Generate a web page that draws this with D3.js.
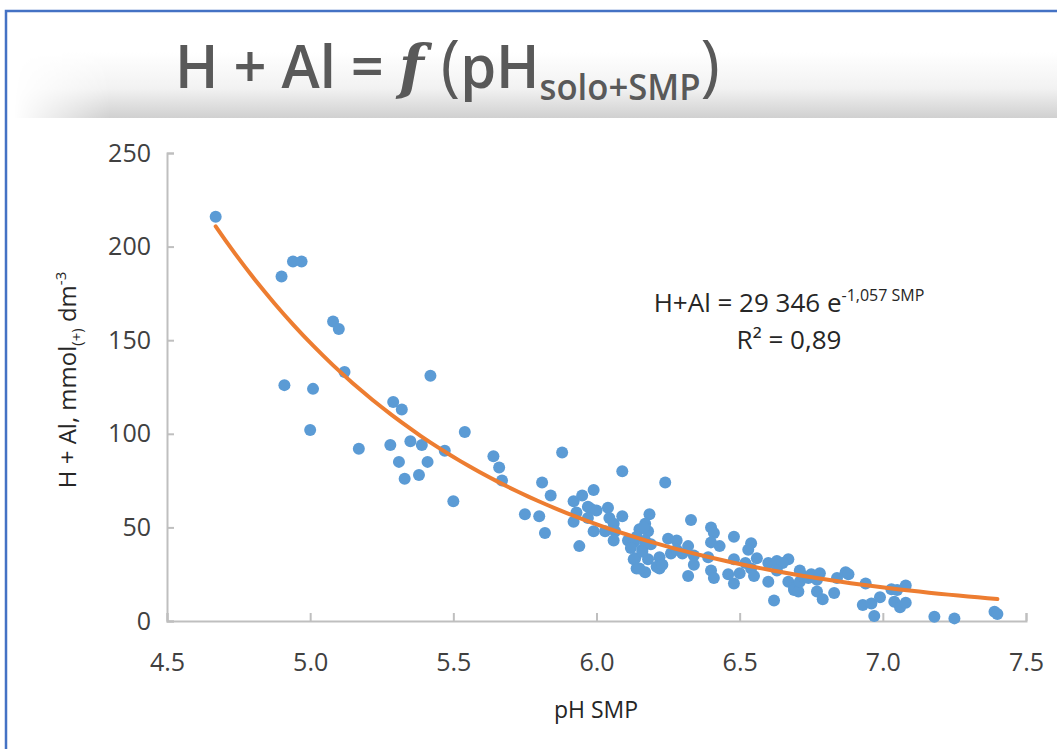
<!DOCTYPE html>
<html>
	<head>
		<title>H + Al = f (pH SMP)</title>
		<script src="https://d3js.org/d3.v7.min.js"></script>
		<style>
			body {
				margin: 0;
				background: #fff;
			}
			text {
				font-family: "Open Sans", sans-serif;
			}
			.axis path, .axis line {
				stroke: #bfbfbf;
				stroke-width: 2;
			}
			.axis text {
				fill: #404040;
				font-size: 25px;
				font-family: "Open Sans", sans-serif;
			}
		</style>
	</head>
	<body>
		<div class="chart"></div>

		<script>
			// pH SMP readings
			var phSmp = [
				4.67, 4.90, 4.94, 4.97, 5.08, 5.10, 5.12, 4.91, 5.01, 5.42,
				5.00, 5.29, 5.32, 5.54, 5.35, 5.39, 5.28, 5.17, 5.47, 5.31,
				5.41, 5.33, 5.38, 5.50, 5.64, 5.66, 5.67, 5.75, 5.80, 5.81,
				5.88, 5.84, 5.82, 5.94, 5.92, 5.95, 5.99, 6.09, 6.24, 5.93,
				5.92, 5.97, 5.98, 6.00, 5.97, 6.04, 6.045, 6.09, 5.99, 6.03,
				6.06, 6.065, 6.06, 6.11, 6.185, 6.13, 6.14, 6.17, 6.22, 6.25,
				6.26, 6.28, 6.17, 6.15, 6.18, 6.14, 6.17, 6.13, 6.19, 6.12,
				6.16, 6.135, 6.18, 6.15, 6.22, 6.21, 6.28, 6.23, 6.33, 6.40,
				6.41, 6.48, 6.40, 6.43, 6.54, 6.53, 6.32, 6.34, 6.30, 6.39,
				6.34, 6.32, 6.40, 6.41, 6.46, 6.48, 6.52, 6.54, 6.56, 6.60,
				6.55, 6.50, 6.48, 6.60, 6.63, 6.67, 6.62, 6.67, 6.69, 6.165,
				6.17, 6.16, 6.65, 6.71, 6.69, 6.705, 6.71, 6.72, 6.74, 6.75,
				6.78, 6.77, 6.77, 6.79, 6.83, 6.84, 6.87, 6.94, 6.93, 6.96,
				6.99, 6.97, 7.03, 7.05, 7.08, 7.04, 7.06, 7.08, 7.18, 7.25,
				7.39, 7.40, 6.63, 6.88
			];

			// H + Al, mmol(+) dm-3
			var hAl = [
				216, 184, 192, 192, 160, 156, 133, 126, 124, 131,
				102, 117, 113, 101, 96, 94, 94, 92, 91, 85,
				85, 76, 78, 64, 88, 82, 75, 57, 56, 74,
				90, 67, 47, 40, 64, 67, 70, 80, 74, 58,
				53, 61, 60, 59, 55, 60.5, 55, 56, 48, 48,
				52, 48, 43, 43, 57, 33, 28, 26, 28, 44,
				36, 43, 52, 49, 48, 45, 43, 42, 41, 39,
				38, 33.5, 33, 28, 34, 29, 38, 30, 54, 50,
				47, 45, 42, 40, 41.5, 38, 40, 35, 36, 34,
				30, 24, 27, 23, 25, 33, 31, 28, 33.5, 31,
				24, 25.5, 20, 21, 32, 33, 11, 21, 17.5, 50,
				41.5, 37, 31, 27, 16.6, 15.7, 21, 24, 23, 25,
				25.5, 22, 15.7, 11.6, 15, 23, 26, 20, 8.5, 9.4,
				12.7, 2.7, 17, 16.6, 19, 10.3, 7.3, 9.8, 2.3, 1.4,
				5, 3.7, 27, 25
			];

			var xTicks = [4.5, 5.0, 5.5, 6.0, 6.5, 7.0, 7.5];
			var yTicks = [0, 50, 100, 150, 200, 250];

			// trendline from the chart label: H+Al = 29346 e^(-1.057 SMP)
			var fitA = 29346;
			var fitB = -1.057;

			var width = 1057,
				height = 749;

			var svg = d3.select(".chart")
				.append("svg")
				.attr("width", width)
				.attr("height", height);

			var defs = svg.append("defs");

			var bandGrad = defs.append("linearGradient")
				.attr("id", "bandGrad")
				.attr("x1", 0).attr("y1", 0)
				.attr("x2", 0).attr("y2", 1);
			bandGrad.append("stop").attr("offset", "0%").attr("stop-color", "#ffffff");
			bandGrad.append("stop").attr("offset", "55%").attr("stop-color", "#f2f2f2");
			bandGrad.append("stop").attr("offset", "100%").attr("stop-color", "#d0d0d0");

			var fadeGrad = defs.append("linearGradient")
				.attr("id", "fadeGrad")
				.attr("gradientUnits", "userSpaceOnUse")
				.attr("x1", 14).attr("y1", 0)
				.attr("x2", 110).attr("y2", 0);
			fadeGrad.append("stop").attr("offset", "0%").attr("stop-color", "#000");
			fadeGrad.append("stop").attr("offset", "100%").attr("stop-color", "#fff");

			defs.append("mask")
				.attr("id", "fadeMask")
				.attr("maskUnits", "userSpaceOnUse")
				.attr("x", 0).attr("y", 0).attr("width", width).attr("height", height)
				.append("rect")
				.attr("x", 0).attr("y", 0)
				.attr("width", width).attr("height", height)
				.style("fill", "url(#fadeGrad)");

			// title band
			svg.append("rect")
				.attr("x", 14)
				.attr("y", 52)
				.attr("width", width)
				.attr("height", 66)
				.attr("mask", "url(#fadeMask)")
				.style("fill", "url(#bandGrad)");

			// slide frame
			svg.append("rect")
				.attr("x", 6)
				.attr("y", 11)
				.attr("width", width + 20)
				.attr("height", height + 20)
				.style("fill", "none")
				.style("stroke", "#4472c4")
				.style("stroke-width", 2.5);

			// title
			var title = svg.append("text")
				.attr("x", 175)
				.attr("y", 88)
				.style("fill", "#595959")
				.style("font-weight", 600)
				.style("font-size", "60px");
			title.append("tspan").text("H + Al = ");
			title.append("tspan").style("font-style", "italic").style("font-weight", "bold").style("font-family", "'DejaVu Serif', serif").text("f");
			title.append("tspan").style("font-weight", "normal").style("font-size", "68px").text(" (");
			title.append("tspan").text("pH");
			title.append("tspan").attr("dy", 12).style("font-size", "36px").text("solo+SMP");
			title.append("tspan").attr("dy", -12).style("font-weight", "normal").style("font-size", "68px").text(")");

			var tw = title.node().getComputedTextLength();
			title.attr("transform", "translate(175,0) scale(" + (545 / tw) + ",1) translate(-175,0)");

			// plot
			var x = d3.scaleLinear()
				.domain([4.5, 7.5])
				.range([167, 1026]);

			var y = d3.scaleLinear()
				.domain([0, 250])
				.range([621, 153]);

			svg.append("g")
				.attr("class", "axis")
				.attr("transform", "translate(0," + y(0) + ")")
				.call(d3.axisBottom(x)
					.tickValues(xTicks)
					.tickFormat(d3.format(".1f"))
					.tickSize(-8)
					.tickSizeOuter(-8)
					.tickPadding(32));

			svg.append("g")
				.attr("class", "axis")
				.attr("transform", "translate(" + x(4.5) + ",0)")
				.call(d3.axisLeft(y)
					.tickValues(yTicks)
					.tickSize(-7)
					.tickSizeOuter(-7)
					.tickPadding(16));

			// points
			var points = phSmp.map(function(d, i) {
				return { ph: d, hal: hAl[i] };
			});

			svg.append("g")
				.selectAll("circle")
				.data(points)
				.enter().append("circle")
				.attr("cx", function(d) { return x(d.ph); })
				.attr("cy", function(d) { return y(d.hal); })
				.attr("r", 6)
				.style("fill", "#5b9bd5");

			// exponential trendline
			var xMin = d3.min(phSmp),
				xMax = d3.max(phSmp);
			var curvePts = d3.range(0, 81).map(function(i) {
				var v = xMin + (xMax - xMin) * i / 80;
				return [v, fitA * Math.exp(fitB * v)];
			});

			var line = d3.line()
				.x(function(d) { return x(d[0]); })
				.y(function(d) { return y(d[1]); });

			svg.append("path")
				.datum(curvePts)
				.attr("d", line)
				.style("fill", "none")
				.style("stroke", "#ed7d31")
				.style("stroke-width", 4)
				.style("stroke-linecap", "round");

			// equation label
			var eq = svg.append("text")
				.attr("x", 789)
				.attr("y", 312)
				.attr("text-anchor", "middle")
				.style("fill", "#262626")
				.style("font-size", "26px");
			eq.append("tspan").text("H+Al = 29 346 e");
			eq.append("tspan").attr("dy", -11).style("font-size", "16px").text("-1,057 SMP");

			svg.append("text")
				.attr("x", 789)
				.attr("y", 349)
				.attr("text-anchor", "middle")
				.style("fill", "#262626")
				.style("font-size", "26px")
				.text("R² = 0,89");

			// axis titles
			var yl = svg.append("text")
				.attr("transform", "translate(76,380) rotate(-90)")
				.attr("text-anchor", "middle")
				.style("fill", "#262626")
				.style("font-size", "24px");
			yl.append("tspan").text("H + Al, mmol");
			yl.append("tspan").attr("dy", 6).style("font-size", "15px").text("(+)");
			yl.append("tspan").attr("dy", -6).text(" dm");
			yl.append("tspan").attr("dy", -10).style("font-size", "15px").text("-3");

			svg.append("text")
				.attr("x", 596)
				.attr("y", 718)
				.attr("text-anchor", "middle")
				.style("fill", "#262626")
				.style("font-size", "23px")
				.text("pH SMP");
		</script>
	</body>
</html>
